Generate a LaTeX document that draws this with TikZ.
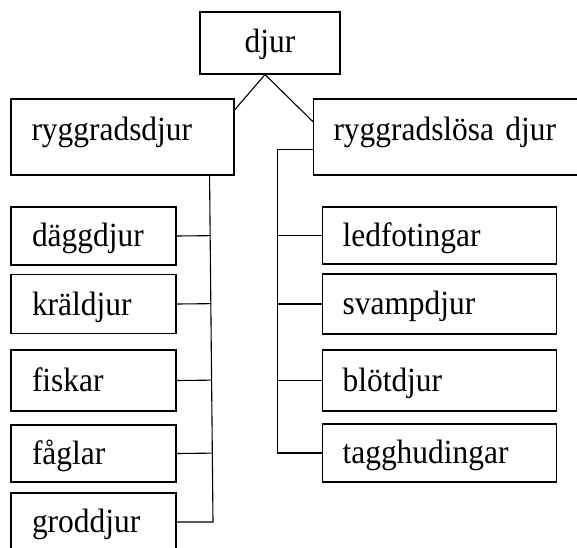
\documentclass[tikz,border=0pt]{standalone}
\usepackage{fontspec}
\setmainfont{Liberation Serif}
\newfontfamily\boxfont[FakeStretch=0.93]{Liberation Serif}
\usetikzlibrary{calc}
\begin{document}
\begin{tikzpicture}[x=1pt,y=-1pt, line width=1.1pt,
  box/.style={draw, inner ysep=0pt, align=left,
    font=\boxfont\fontsize{33.8}{38}\selectfont, text height=23pt, text depth=2pt},
  lbox/.style={box, minimum width=165pt, inner xsep=21pt, text width=123pt},
  rbox/.style={box, minimum width=234pt, inner xsep=20pt, text width=194pt},
  bigbox/.style={box, minimum height=76pt, text height=14pt, text depth=8pt},
  topbox/.style={box, align=center, minimum width=140pt, minimum height=62pt,
    text height=20pt, text depth=2pt, inner xsep=0pt, text width=140pt}]
\clip (0,0) rectangle (577,547);
\fill[white] (0,0) rectangle (577,547);
% top
\node[topbox] (djur) at (270,43) {djur};
\node[bigbox, minimum width=223pt, inner xsep=20.5pt, text width=182pt] (ryg) at (122.5,137) {ryggradsdjur};
\node[bigbox, minimum width=280pt, inner xsep=20pt, text width=240pt] (rygl) at (453.5,137) {ryggradslösa djur};
% left column
\node[lbox, minimum height=58pt] (dagg) at (93.5,236) {däggdjur};
\node[lbox, minimum height=59pt, text height=24pt, text depth=1pt] (krald) at (93.5,304) {kräldjur};
\node[lbox, minimum height=61pt] (fisk) at (93.5,380.5) {fiskar};
\node[lbox, minimum height=57pt] (fagl) at (93.5,453.5) {fåglar};
\node[lbox, minimum height=58pt] (grod) at (93.5,522) {groddjur};
% right column
\node[rbox, minimum height=57pt] (led) at (439.6,235.5) {ledfotingar};
\node[rbox, minimum height=60pt] (svamp) at (439.6,304) {svampdjur};
\node[rbox, minimum height=61pt] (blot) at (439.6,380.5) {blötdjur};
\node[rbox, minimum height=58pt] (tagg) at (439.6,453) {tagghudingar};
% connectors from djur
\coordinate (apex) at ([xshift=-5pt]djur.south);
\draw (ryg.north east |- 0,110) -- (apex) -- (rygl.north west |- 0,121.7);
% left trunk
\coordinate (ltop) at ([xshift=-25pt]ryg.south east);
\coordinate (lbot) at (213,522);
\draw (ltop) -- (lbot) -- (grod.east);
\foreach \n in {dagg,krald,fisk,fagl}
  \draw (\n.east) -- ($(ltop)!(\n.east)!(lbot)$);
% right trunk
\coordinate (rtop) at (rygl.north west |- 0,149.3);
\coordinate (rx) at (277.3,0);
\draw (rtop) -| (rx |- tagg.west) -- (tagg.west);
\foreach \n in {led,svamp,blot}
  \draw (rx |- \n.west) -- (\n.west);
\end{tikzpicture}
\end{document}
